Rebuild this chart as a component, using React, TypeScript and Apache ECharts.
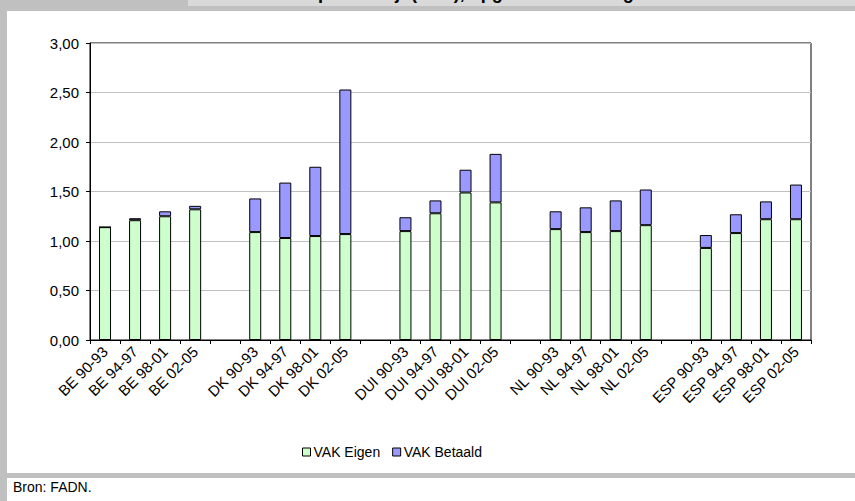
import React, { useEffect, useRef } from "react";
import * as echarts from "echarts";

// Periods per country, with an empty slot between country groups
const categories = [
  "BE 90-93", "BE 94-97", "BE 98-01", "BE 02-05", " ",
  "DK 90-93", "DK 94-97", "DK 98-01", "DK 02-05", "  ",
  "DUI 90-93", "DUI 94-97", "DUI 98-01", "DUI 02-05", "   ",
  "NL 90-93", "NL 94-97", "NL 98-01", "NL 02-05", "    ",
  "ESP 90-93", "ESP 94-97", "ESP 98-01", "ESP 02-05",
];

// Own labour units (VAK Eigen)
const vakEigen = [
  1.14, 1.21, 1.25, 1.32, null,
  1.09, 1.03, 1.05, 1.07, null,
  1.10, 1.28, 1.49, 1.39, null,
  1.12, 1.09, 1.10, 1.16, null,
  0.93, 1.08, 1.22, 1.22,
];

// Paid labour units (VAK Betaald)
const vakBetaald = [
  0.0, 0.02, 0.05, 0.035, null,
  0.34, 0.56, 0.70, 1.46, null,
  0.14, 0.13, 0.23, 0.49, null,
  0.18, 0.25, 0.31, 0.36, null,
  0.13, 0.19, 0.18, 0.35,
];

const yTicks = { min: 0, max: 3, interval: 0.5 };

const titleText = "Arbeidsinzet per bedrijf (VAK), opgedeeld naar eigen en betaalde arbeid";
const sourceText = "Bron: FADN.";

const FONT = "'Liberation Sans', Arial, sans-serif";

export default function App() {
  const ref = useRef<HTMLDivElement>(null);

  useEffect(() => {
    document.body.style.margin = "0";
    if (!ref.current) return;
    const chart = echarts.init(ref.current, undefined, { renderer: "svg" });
    chart.setOption({
      animation: false,
      backgroundColor: "#ffffff",
      textStyle: { fontFamily: FONT },
      graphic: [
        // frame around chart and source note
        { type: "rect", z: -10, silent: true, shape: { x: 0, y: 0, width: 855, height: 501 }, style: { fill: "#c0c0c0" } },
        { type: "rect", z: -9, silent: true, shape: { x: 7, y: 11, width: 848, height: 462 }, style: { fill: "#ffffff" } },
        { type: "rect", z: -9, silent: true, shape: { x: 7, y: 478, width: 848, height: 23 }, style: { fill: "#ffffff" } },
        { type: "rect", z: -9, silent: true, shape: { x: 188, y: 0, width: 667, height: 6 }, style: { fill: "#d9d9d9" } },
        {
          type: "text", z: -8, silent: true, x: 205, y: 2,
          style: {
            text: titleText,
            font: "bold 18px 'Liberation Sans', Arial, sans-serif",
            fill: "#000000",
            verticalAlign: "bottom",
          },
        },
        {
          type: "text", silent: true, x: 13, y: 487,
          style: { text: sourceText, font: `14px ${FONT}`, fill: "#000000", verticalAlign: "middle" },
        },
      ],
      grid: {
        left: 90, right: 44, top: 43, bottom: 161,
        show: true, borderColor: "#000000", borderWidth: 1, backgroundColor: "transparent",
      },
      legend: {
        left: 297, top: 440,
        itemWidth: 8, itemHeight: 8, itemGap: 12,
        icon: "rect",
        textStyle: { fontFamily: FONT, fontSize: 14, color: "#000000", padding: [0, 0, 0, -2] },
        data: [
          { name: "VAK Eigen", itemStyle: { borderColor: "#000", borderWidth: 1 } },
          { name: "VAK Betaald", itemStyle: { borderColor: "#000", borderWidth: 1 } },
        ],
      },
      xAxis: {
        type: "category",
        data: categories,
        boundaryGap: true,
        axisLine: { lineStyle: { color: "#000000", width: 1 } },
        axisTick: { show: true, length: 4, interval: 0, lineStyle: { color: "#000000" } },
        axisLabel: {
          interval: 0, rotate: 45, margin: 9,
          fontFamily: FONT, fontSize: 15, color: "#000000",
        },
      },
      yAxis: {
        type: "value",
        min: yTicks.min, max: yTicks.max, interval: yTicks.interval,
        axisLine: { show: true, lineStyle: { color: "#000000", width: 1 } },
        axisTick: { show: true, length: 4, lineStyle: { color: "#000000" } },
        splitLine: { lineStyle: { color: "#c0c0c0", width: 1 } },
        axisLabel: {
          margin: 11, fontFamily: FONT, fontSize: 15, color: "#000000",
          formatter: (v: number) => v.toFixed(2).replace(".", ","),
        },
      },
      series: [
        {
          name: "VAK Eigen", type: "bar", stack: "vak", barWidth: 12,
          itemStyle: { color: "#ccffcc", borderColor: "#000000", borderWidth: 1 },
          data: vakEigen,
        },
        {
          name: "VAK Betaald", type: "bar", stack: "vak", barWidth: 12,
          itemStyle: { color: "#9999ff", borderColor: "#000000", borderWidth: 1 },
          data: vakBetaald,
        },
      ],
    });
    return () => chart.dispose();
  }, []);

  return (
    <div
      ref={ref}
      style={{ position: "fixed", left: 0, top: 0, width: 855, height: 501 }}
    />
  );
}
